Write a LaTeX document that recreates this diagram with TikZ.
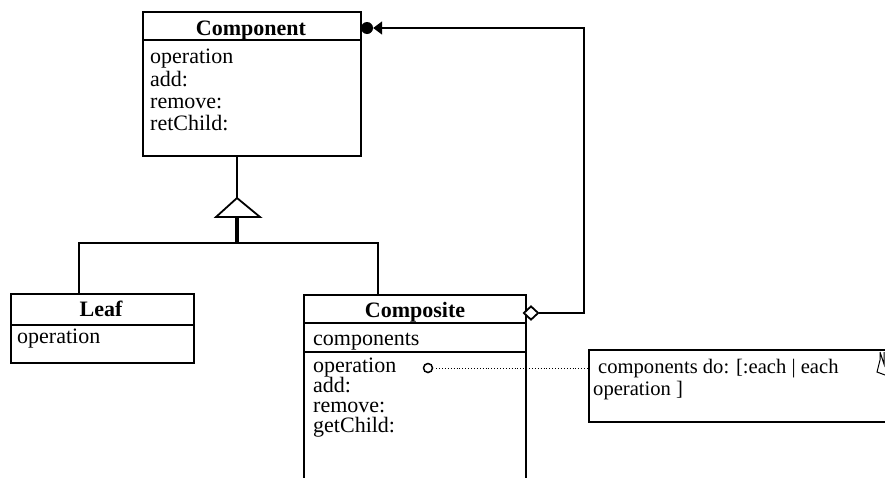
\documentclass[tikz,border=0pt]{standalone}
\usepackage{fontspec}
\setmainfont{Liberation Serif}
\usetikzlibrary{arrows.meta,shapes.geometric}
\begin{document}
\begin{tikzpicture}[x=1pt,y=-1pt,
  box/.style={draw,line width=1.8pt,inner sep=0pt,anchor=north west},
  sepline/.style={line width=1.8pt},
  lbl/.style={inner sep=0pt,anchor=base west,font=\fontsize{22}{24}\selectfont},
  ttl/.style={inner sep=0pt,anchor=base,font=\fontsize{22}{24}\selectfont\bfseries},
  conn/.style={line width=1.8pt},
  notetxt/.style={inner sep=0pt,anchor=base west,font=\fontsize{20.6}{22}\selectfont},
]
\useasboundingbox (0,0) rectangle (885,477);
\clip (0,0) rectangle (885,477);

% ---------- Component ----------
\node[box,minimum width=218pt,minimum height=144pt] (comp) at (142,11) {};
\draw[sepline] (142,40) -- (360,40);
\node[ttl] (compT) at (251,35) {Component};
\node[lbl] (c1) at (150,63) {operation};
\node[lbl] (c2) at (150,86) {add:};
\node[lbl] (c3) at (150,108) {remove:};
\node[lbl] (c4) at (150,130) {retChild:};

% ---------- Leaf ----------
\node[box,minimum width=183pt,minimum height=69pt] (leaf) at (10,293) {};
\draw[sepline] (10,325) -- (193,325);
\node[ttl] (leafT) at (101,316) {Leaf};
\node[lbl] (l1) at (17,343) {operation};

% ---------- Composite (runs past the bottom edge) ----------
\coordinate (compoNW) at (304,295);
\coordinate (compoNE) at (526,295);
\draw[line width=1.8pt] (304,490) -- (compoNW) -- (compoNE) -- (526,490);
\draw[sepline] (304,323) -- (526,323);
\draw[sepline] (304,352) -- (526,352);
\node[ttl] (compoT) at (415,317) {Composite};
\node[lbl] (k0) at (313,345) {components};
\node[lbl] (k1) at (313,372) {operation};
\node[lbl] (k2) at (313,392) {add:};
\node[lbl] (k3) at (313,412) {remove:};
\node[lbl] (k4) at (313,432) {getChild:};

% ---------- Note (runs past the right edge) ----------
\coordinate (noteW) at (589,368);
\draw[line width=2.2pt] (895,350) -- (589,350) -- (589,422) -- (895,422);
\node[notetxt] (n1) at (598,373) {components do: [:each | each};
\node[notetxt] (n2) at (593,395) {operation ]};
% corner glyph
\draw[line width=1pt] (880,352) -- (880,360) -- (877,372) -- (885,375)
      (880,352) -- (884,364) -- (884,352);

% note anchor circle and dotted link
\node[draw,circle,line width=1.5pt,minimum size=9pt,inner sep=0pt] (opc) at (428,368) {};
\draw[line width=0.9pt,dotted] (opc.east) ++(3,0) -- (noteW);

% ---------- Generalization ----------
\coordinate (genApex) at (237,198);
\coordinate (genBase) at (237,217);
\coordinate (branch) at (237,243);
\coordinate (leafTop) at (79,293);
\coordinate (compoTop) at (378,295);
\draw[conn] (comp.south -| genApex) -- (genApex);
\draw[conn,line join=miter] (216,217) -- (genApex) -- (260,217) -- cycle;
\draw[line width=3.2pt] (genBase) -- (branch);
\draw[conn] (leafTop) |- (branch) -| (compoTop);

% ---------- Aggregation ----------
\node[draw,diamond,fill=white,line width=1.8pt,minimum width=15pt,minimum height=14pt,inner sep=0pt] (agg) at (531,313) {};
\node[circle,fill=black,minimum size=12pt,inner sep=0pt] (dot) at (367,28) {};
\coordinate (turn) at (584,28);
\draw[conn,-{Triangle[length=9pt,width=13pt]}] (agg.east) -| (turn) -- (dot.east);
\end{tikzpicture}
\end{document}
